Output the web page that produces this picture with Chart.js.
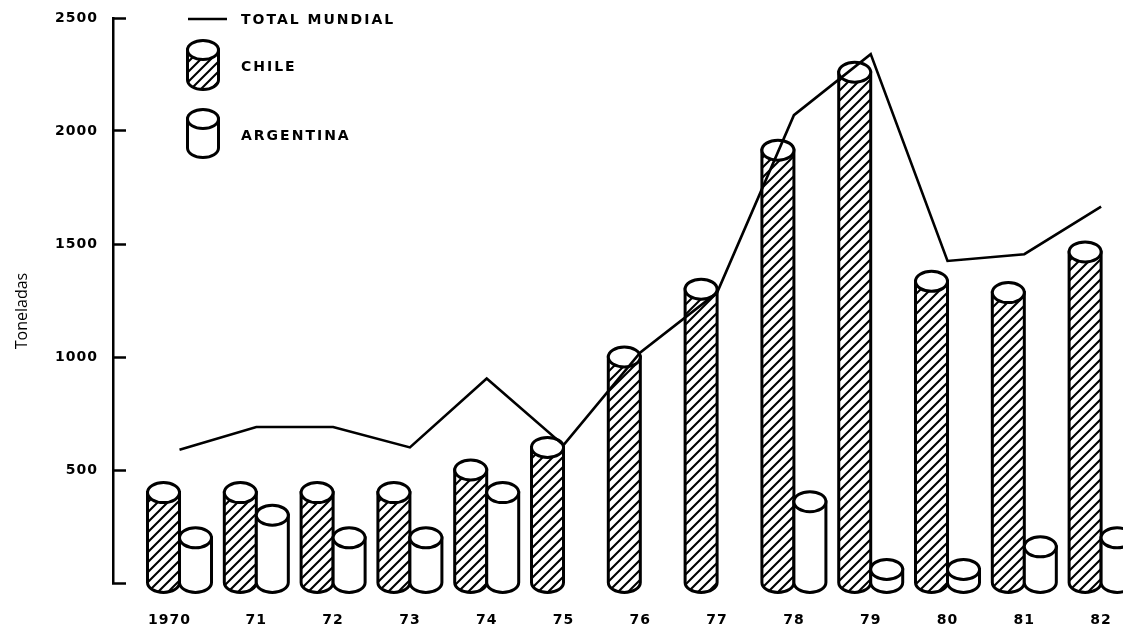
<!DOCTYPE html>
<html>
<head>
<meta charset="utf-8">
<title>Toneladas</title>
<script src="https://cdn.jsdelivr.net/npm/chart.js@4/dist/chart.umd.min.js"></script>
<style>
html, body { margin: 0; padding: 0; background: #fff; overflow: hidden; }
canvas { display: block; }
</style>
</head>
<body>
<canvas id="chart" width="1123" height="625"></canvas>
<script>
// values
const years = ['1970', '71', '72', '73', '74', '75', '76', '77', '78', '79', '80', '81', '82'];
const chile = [400, 400, 400, 400, 500, 600, 1000, 1300, 1915, 2260, 1335, 1285, 1465];
const argentina = [200, 300, 200, 200, 400, null, null, null, 360, 60, 60, 160, 200];
const totalMundial = [590, 690, 690, 600, 905, 610, 1020, 1285, 2070, 2340, 1425, 1455, 1665];
const legendLabels = ['TOTAL MUNDIAL', 'CHILE', 'ARGENTINA'];
const yAxisTitle = 'Toneladas';

const tickFont = { family: 'DejaVu Sans', size: 14, weight: 'bold' };

// Diagonal hatch, anchored to the canvas so bars and caps line up
function makeHatch() {
    const size = 10;
    const tile = document.createElement('canvas');
    tile.width = size;
    tile.height = size;
    const c = tile.getContext('2d');
    c.fillStyle = '#fff';
    c.fillRect(0, 0, size, size);
    c.strokeStyle = '#000';
    c.lineWidth = 2.1;
    c.beginPath();
    c.moveTo(-2, 2); c.lineTo(2, -2);
    c.moveTo(-2, size + 2); c.lineTo(size + 2, -2);
    c.moveTo(size - 2, size + 2); c.lineTo(size + 2, size - 2);
    c.stroke();
    return c.createPattern(tile, 'repeat');
}
const hatch = makeHatch();

function drawCylinder(ctx, cx, topY, baseY, rx, ry, fill) {
    ctx.save();
    ctx.lineWidth = 3;
    ctx.strokeStyle = '#000';
    ctx.fillStyle = fill;
    ctx.beginPath();
    ctx.moveTo(cx - rx, topY);
    ctx.lineTo(cx - rx, baseY);
    ctx.ellipse(cx, baseY, rx, ry, 0, Math.PI, 0, true);
    ctx.lineTo(cx + rx, topY);
    ctx.closePath();
    ctx.fill();
    ctx.stroke();
    ctx.fillStyle = '#fff';
    ctx.beginPath();
    ctx.ellipse(cx, topY, rx, ry, 0, 0, Math.PI * 2);
    ctx.fill();
    ctx.stroke();
    ctx.restore();
}

// Turns the bars into cylinders just before the line goes on top,
// Chile first so the Argentina cylinders overlap it
const cylinders = {
    id: 'cylinders',
    beforeDatasetDraw(chart, args) {
        if (args.meta.type !== 'line') return;
        [0, 1].forEach(d => {
            const ds = chart.data.datasets[d];
            chart.getDatasetMeta(d).data.forEach((bar, i) => {
                if (ds.data[i].y === null) return;
                drawCylinder(chart.ctx, bar.x, bar.y, bar.base, bar.width / 2, 10, ds.backgroundColor);
            });
        });
    }
};

const sideTexts = {
    id: 'sideTexts',
    beforeDraw(chart) {
        chart.ctx.letterSpacing = '1px';
    },
    afterDraw(chart) {
        const ctx = chart.ctx;
        ctx.save();
        // legend
        ctx.strokeStyle = '#000';
        ctx.lineWidth = 2.5;
        ctx.beginPath();
        ctx.moveTo(188, 19);
        ctx.lineTo(227, 19);
        ctx.stroke();
        drawCylinder(ctx, 203, 50, 80, 15.5, 9.5, hatch);
        drawCylinder(ctx, 203, 119, 148, 15.5, 9.5, '#fff');
        ctx.fillStyle = '#000';
        ctx.font = 'bold 14px "DejaVu Sans"';
        ctx.textBaseline = 'middle';
        ctx.textAlign = 'left';
        ctx.letterSpacing = '2px';
        ctx.fillText(legendLabels[0], 241, 20);
        ctx.fillText(legendLabels[1], 241, 67);
        ctx.fillText(legendLabels[2], 241, 136);
        ctx.letterSpacing = '0px';
        // axis title
        ctx.translate(22, 311);
        ctx.rotate(-Math.PI / 2);
        ctx.textAlign = 'center';
        ctx.font = '16px "Open Sans"';
        ctx.fillText(yAxisTitle, 0, 0);
        ctx.restore();
    }
};

// keep the plot area where the original has it, whatever the tick labels measure
function noScalePadding(axis) {
    axis.paddingTop = 0;
    axis.paddingBottom = 0;
    axis.paddingLeft = 0;
    axis.paddingRight = 0;
}

new Chart(document.getElementById('chart'), {
    data: {
        datasets: [
            {
                type: 'bar',
                label: 'CHILE',
                data: chile.map((v, i) => ({ x: i, y: v })),
                backgroundColor: hatch,
                barThickness: 32,
                order: 2
            },
            {
                type: 'bar',
                label: 'ARGENTINA',
                data: argentina.map((v, i) => ({ x: i, y: v })),
                backgroundColor: '#fff',
                barThickness: 32,
                order: 3
            },
            {
                type: 'line',
                label: 'TOTAL MUNDIAL',
                data: totalMundial.map((v, i) => ({ x: i, y: v })),
                borderColor: '#000',
                borderWidth: 2.6,
                pointRadius: 0,
                tension: 0,
                order: 1
            }
        ]
    },
    options: {
        responsive: false,
        animation: false,
        devicePixelRatio: 1,
        layout: { autoPadding: false, padding: { top: 18, left: 0, right: 0, bottom: 0 } },
        plugins: { legend: { display: false }, tooltip: { enabled: false } },
        scales: {
            x: {
                type: 'linear',
                offset: false,
                min: -0.866,
                max: 12.285,
                grid: { display: false },
                border: { display: false },
                // the 1970 label sits a little left of its group in the original
                afterBuildTicks: axis => {
                    axis.ticks = years.map((y, i) => ({ value: i === 0 ? -0.13 : i }));
                },
                afterFit: axis => { axis.height = 42; noScalePadding(axis); },
                ticks: {
                    callback: (value, index) => years[index],
                    color: '#000',
                    font: tickFont,
                    padding: 21,
                    maxRotation: 0,
                    autoSkip: false
                }
            },
            y: {
                min: 0,
                max: 2500,
                grid: { drawOnChartArea: false, tickLength: -13, tickWidth: 2.5, tickColor: '#000' },
                border: { display: true, color: '#000', width: 2.5 },
                afterFit: axis => { axis.width = 113; noScalePadding(axis); },
                ticks: {
                    stepSize: 500,
                    callback: v => (v === 0 ? '' : v),
                    color: '#000',
                    font: tickFont,
                    padding: 28
                }
            }
        }
    },
    plugins: [cylinders, sideTexts]
});
</script>
</body>
</html>
